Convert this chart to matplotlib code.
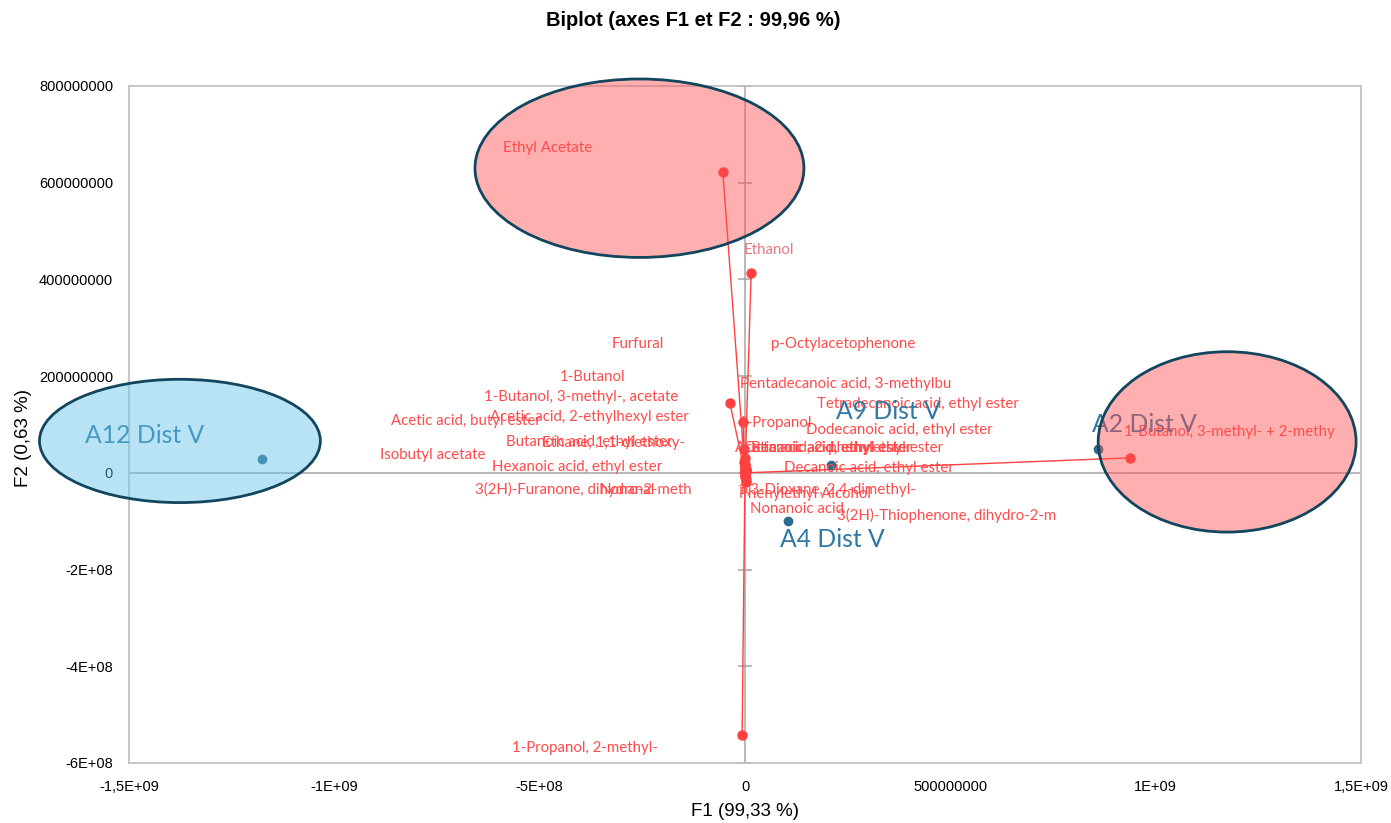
import matplotlib
matplotlib.use("Agg")
import matplotlib.pyplot as plt
from matplotlib.patches import Ellipse
import numpy as np

# ---------------- data ----------------
var_names = [
    "Ethyl Acetate", "Ethanol", "1-Butanol, 3-methyl-, acetate", "1-Propanol",
    "1-Butanol, 3-methyl- + 2-methy", "1-Propanol, 2-methyl-",
    "Furfural", "p-Octylacetophenone", "1-Butanol", "Pentadecanoic acid, 3-methylbu",
    "Tetradecanoic acid, ethyl ester", "Acetic acid, butyl ester",
    "Acetic acid, 2-ethylhexyl ester", "Dodecanoic acid, ethyl ester",
    "Butanoic acid, ethyl ester", "Ethane, 1,1-diethoxy-",
    "Octanoic acid, ethyl ester", "Benzoic acid, ethyl ester",
    "Acetic acid, 2-phenylethyl ester", "Isobutyl acetate",
    "Hexanoic acid, ethyl ester", "Decanoic acid, ethyl ester",
    "3(2H)-Furanone, dihydro-2-meth", "Nonanal", "1,3-Dioxane, 2,4-dimethyl-",
    "Phenylethyl Alcohol", "Nonanoic acid", "3(2H)-Thiophenone, dihydro-2-m",
]
var_f1 = [-5.4e7, 1.5e7, -3.7e7, -5e6, 9.37e8, -7e6,
          -2e6, 1e6, -1e6, 0.5e6, 1e6, -1e6, 0.5e6, 2e6, 1e6, -2e6,
          3e6, 0.5e6, 1e6, -1e6, 2e6, 3e6, 0.5e6, 1e6, 1.5e6, 2e6, 1e6, 0.5e6]
var_f2 = [6.23e8, 4.14e8, 1.45e8, 1.06e8, 3.1e7, -5.43e8,
          5.0e7, 1.0e7, 3.0e7, 2e6, 3e6, 1.5e7, 1e6, 5e6, 1.2e7, 2.2e7,
          8e6, 1e6, 4e6, 1.8e7, 6e6, 4e6, -5e6, -2e6, -1.2e7, -1.8e7, -8e6, -3e6]
# label positions (data units) as placed on the chart
lab_f1 = [-4.8e8, 5.9e7, -4.0e8, 7.5e7, 1.18e9, -3.9e8,
          -2.6e8, 2.38e8, -3.7e8, 2.44e8, 4.22e8, -6.8e8,
          -3.8e8, 3.75e8, -3.8e8, -3.2e8,
          2.03e8, 2.1e8, 2.28e8, -7.6e8,
          -4.1e8, 3.02e8, -3.94e8, -2.87e8, 2.0e8,
          1.46e8, 1.27e8, 4.92e8]
lab_f2 = [6.72e8, 4.6e8, 1.57e8, 1.04e8, 8.4e7, -5.7e8,
          2.66e8, 2.66e8, 1.99e8, 1.83e8, 1.43e8, 1.08e8,
          1.16e8, 8.9e7, 6.4e7, 6.2e7,
          5.2e7, 5.2e7, 5.2e7, 3.7e7,
          1.2e7, 1.0e7, -3.5e7, -3.5e7, -3.5e7,
          -4.3e7, -7.4e7, -8.9e7]

obs_names = ["A12 Dist V", "A2 Dist V", "A9 Dist V", "A4 Dist V"]
obs_f1 = [-1.176e9, 8.6e8, 2.09e8, 1.05e8]
obs_f2 = [2.9e7, 5.0e7, 1.66e7, -9.9e7]
obs_lab_f1 = [-1.607e9, 8.45e8, 2.22e8, 8.5e7]
obs_lab_f2 = [7.8e7, 1.0e8, 1.26e8, -1.37e8]

xticks = [-1.5e9, -1e9, -5e8, 0, 5e8, 1e9, 1.5e9]
xtick_labels = ["-1,5E+09", "-1E+09", "-5E+08", "0", "500000000", "1E+09", "1,5E+09"]
yticks = [-6e8, -4e8, -2e8, 0, 2e8, 4e8, 6e8, 8e8]
ytick_labels = ["-6E+08", "-4E+08", "-2E+08", "0", "200000000", "400000000",
                "600000000", "800000000"]

# ellipses: (center f1, center f2, width, height, face colour)
ell_cx = [-1.376e9, -2.57e8, 1.174e9]
ell_cy = [6.6e7, 6.30e8, 6.4e7]
ell_w = [6.84e8, 8.01e8, 6.28e8]
ell_h = [2.55e8, 3.69e8, 3.73e8]
ell_col = [(0.39, 0.76, 0.92, 0.45), (1.0, 0.31, 0.31, 0.45), (1.0, 0.31, 0.31, 0.45)]

# ---------------- plot ----------------
fig = plt.figure(figsize=(13.91, 8.23), dpi=100)
ax = fig.add_axes([129 / 1391, 1 - 763 / 823, (1361 - 129) / 1391, (763 - 86) / 823])
ax.set_xlim(-1.5e9, 1.5e9)
ax.set_ylim(-6e8, 8e8)

for s in ax.spines.values():
    s.set_color("#BFBFBF")
    s.set_linewidth(1.2)

ax.set_xticks(xticks)
ax.set_xticklabels(xtick_labels)
ax.set_yticks(yticks)
ax.set_yticklabels(ytick_labels)
ax.tick_params(length=0, labelsize=10.5, colors="#000000")
ax.tick_params(axis="x", pad=12)
ax.tick_params(axis="y", pad=11.5)
for t in ax.get_xticklabels() + ax.get_yticklabels():
    t.set_family("Liberation Sans")

# zero axes; small tick marks on the vertical one
ax.axhline(0, color="#A6A6A6", lw=1.1, zorder=1)
ax.axvline(0, color="#A6A6A6", lw=1.1, zorder=1)
ax.plot(np.zeros(len(yticks)), yticks, ls="none", marker="_", ms=10, mew=1.1,
        color="#A6A6A6", zorder=1, clip_on=False)

red = "#FF4040"
# vectors
for x, y in zip(var_f1, var_f2):
    ax.plot([0, x], [0, y], color=red, lw=1.0, zorder=3)
ax.plot(var_f1, var_f2, ls="none", marker="o", ms=6.5, color=red, zorder=4)

# variable labels
for n, x, y in zip(var_names, lab_f1, lab_f2):
    c = "#E57A7E" if n == "Ethanol" else "#FF4B4B"
    ax.text(x, y, n, color=c, fontsize=10.8, family="Lato", ha="center",
            va="center", zorder=5)

# observations
ax.plot(obs_f1, obs_f2, ls="none", marker="o", ms=6, color="#2A6C8E", zorder=4)
for n, x, y in zip(obs_names, obs_lab_f1, obs_lab_f2):
    ax.text(x, y, n, color="#2E78A3", fontsize=17.8, family="Lato", ha="left",
            va="center", zorder=5)

# ellipses
for cx, cy, w, h, c in zip(ell_cx, ell_cy, ell_w, ell_h, ell_col):
    e = Ellipse((cx, cy), w, h, facecolor=c, edgecolor="#12455E", lw=2.0,
                zorder=6, clip_on=False)
    ax.add_patch(e)

ax.set_xlabel("F1 (99,33 %)", fontsize=13.5, family="Liberation Sans", va="center")
ax.xaxis.set_label_coords(0.5, -0.072)
ax.set_ylabel("F2 (0,63 %)", fontsize=13.5, family="Liberation Sans")
ax.yaxis.set_label_coords(-0.079, 0.48)
fig.text(693 / 1391, 1 - 20 / 823, "Biplot (axes F1 et F2 : 99,96 %)",
         fontsize=14.5, fontweight="bold", family="Liberation Sans",
         ha="center", va="center")

fig.savefig("out.png", dpi=100)
